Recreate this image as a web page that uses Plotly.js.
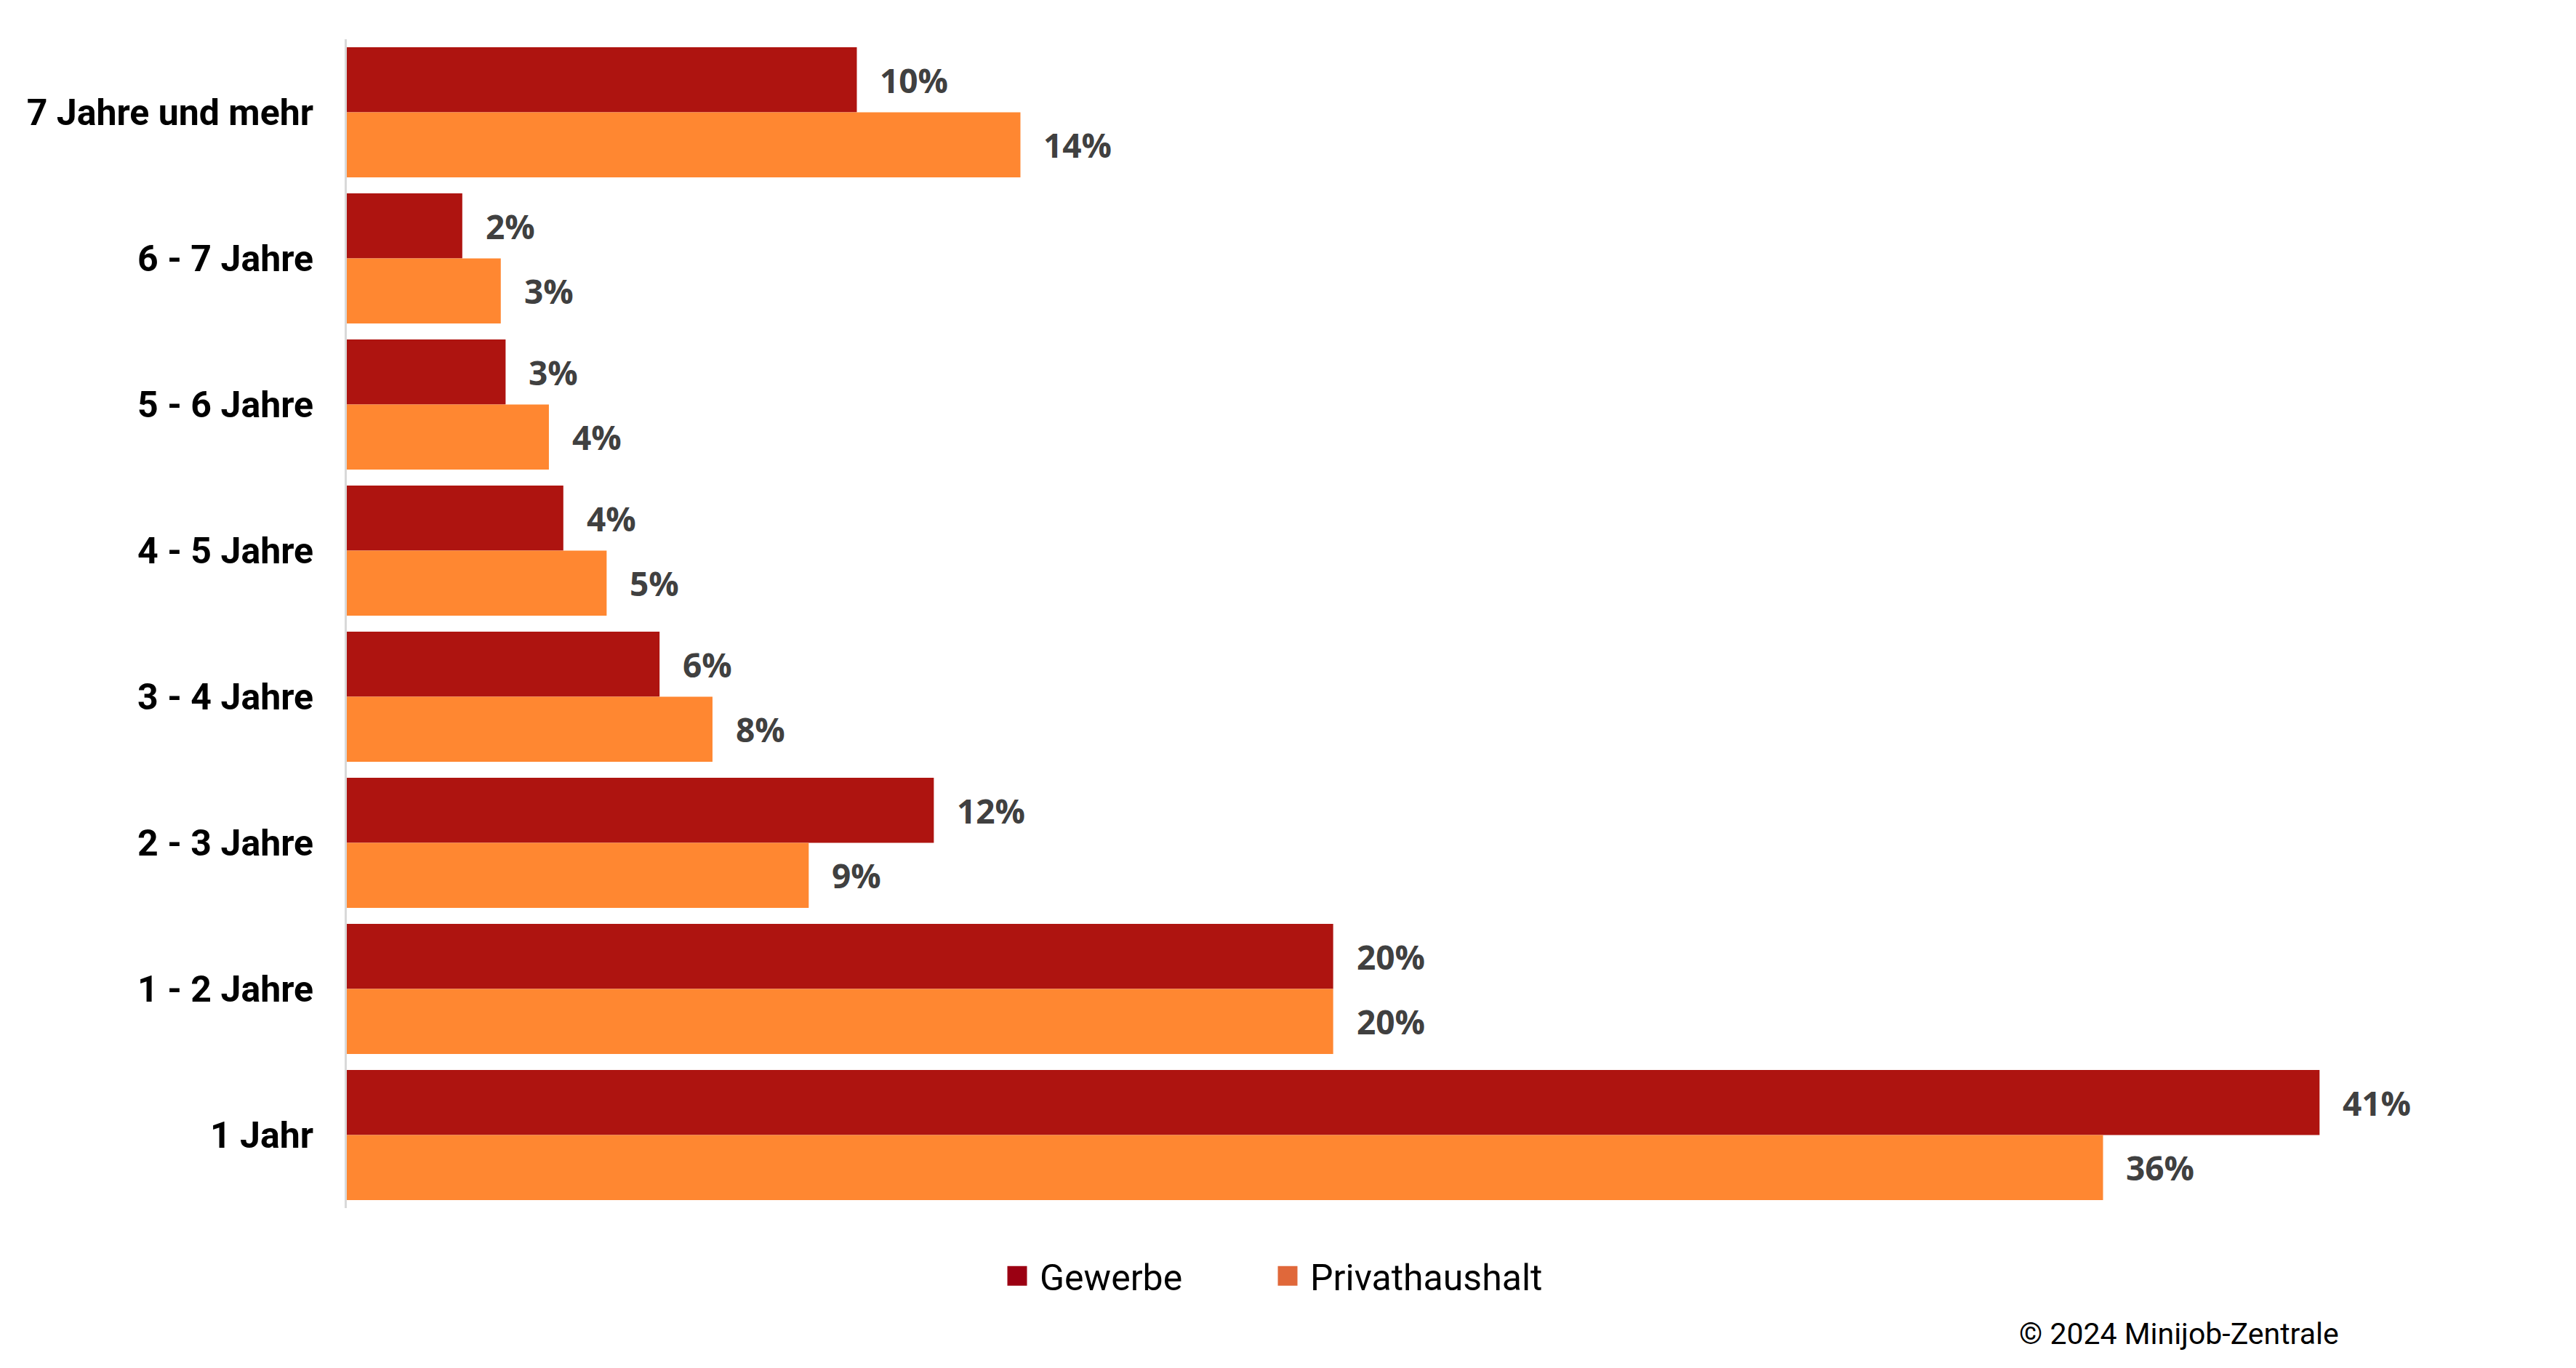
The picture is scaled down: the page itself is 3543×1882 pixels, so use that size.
<!DOCTYPE html>
<html>
<head>
<meta charset="utf-8">
<script src="https://cdn.plot.ly/plotly-3.0.1.min.js"></script>
<style>
  html, body { margin: 0; padding: 0; background: #ffffff; }
  #chart { width: 3543px; height: 1882px; }
</style>
</head>
<body>
<div id="chart"></div>
<script>
// Categories (top to bottom)
const categories = ["7 Jahre und mehr", "6 - 7 Jahre", "5 - 6 Jahre", "4 - 5 Jahre", "3 - 4 Jahre", "2 - 3 Jahre", "1 - 2 Jahre", "1 Jahr"];
// Bar lengths (percent)
const gewerbe = [10.6, 2.4, 3.3, 4.5, 6.5, 12.2, 20.5, 41.0];
const privathaushalt = [14.0, 3.2, 4.2, 5.4, 7.6, 9.6, 20.5, 36.5];
// Data labels as printed in the picture
const gewerbeLabels = ["10%", "2%", "3%", "4%", "6%", "12%", "20%", "41%"];
const privathaushaltLabels = ["14%", "3%", "4%", "5%", "8%", "9%", "20%", "36%"];
const seriesNames = ["Gewerbe", "Privathaushalt"];
const sourceNote = "© 2024 Minijob-Zentrale";

const RED = "#AE1410";
const ORANGE = "#FF8731";
const BARGAP = 0.11;
const LABEL_FONT = { family: "Open Sans, sans-serif", size: 46, color: "#404040", weight: 700 };

const traces = [
  {
    type: "bar", orientation: "h", name: seriesNames[0],
    y: categories, x: gewerbe,
    marker: { color: RED },
    hoverinfo: "skip"
  },
  {
    type: "bar", orientation: "h", name: seriesNames[1],
    y: categories, x: privathaushalt,
    marker: { color: ORANGE },
    hoverinfo: "skip"
  }
];

// Value labels placed next to bar ends through the axis scales
const off = (1 - BARGAP) / 4;
const annotations = [];
categories.forEach((c, i) => {
  annotations.push({
    xref: "x", yref: "y", x: gewerbe[i], y: i - off,
    text: gewerbeLabels[i], showarrow: false,
    xanchor: "left", yanchor: "middle", xshift: 30,
    font: LABEL_FONT
  });
  annotations.push({
    xref: "x", yref: "y", x: privathaushalt[i], y: i + off,
    text: privathaushaltLabels[i], showarrow: false,
    xanchor: "left", yanchor: "middle", xshift: 30,
    font: LABEL_FONT
  });
});
annotations.push({
  xref: "paper", yref: "paper", x: 0.7717, y: -0.1076,
  xanchor: "left", yanchor: "middle", showarrow: false,
  text: sourceNote,
  font: { family: "Roboto, sans-serif", size: 41, color: "#000000" }
});

const layout = {
  width: 3543, height: 1882,
  paper_bgcolor: "#ffffff", plot_bgcolor: "#ffffff",
  margin: { l: 477, r: 88, t: 54, b: 220, pad: 0 },
  barmode: "group",
  bargap: BARGAP, bargroupgap: 0,
  showlegend: true,
  legend: {
    orientation: "h",
    x: 0.4315, xanchor: "center",
    y: -0.058, yanchor: "middle",
    font: { family: "Roboto, sans-serif", size: 50, color: "#000000" },
    entrywidth: 327, entrywidthmode: "pixels",
    traceorder: "normal"
  },
  xaxis: {
    range: [0, 45],
    showgrid: false, zeroline: false, showline: false,
    showticklabels: false, ticks: "", fixedrange: true
  },
  yaxis: {
    type: "category",
    autorange: "reversed",
    showgrid: false, zeroline: false,
    showline: true, linecolor: "#d9d9d9", linewidth: 3,
    ticks: "outside", ticklen: 33, tickcolor: "rgba(0,0,0,0)",
    tickfont: { family: "Roboto, sans-serif", size: 50, color: "#000000", weight: 700 },
    fixedrange: true
  },
  annotations: annotations
};

Plotly.newPlot("chart", traces, layout, { displayModeBar: false, staticPlot: true }).then(gd => {
  // enlarge legend swatches to match the reference
  const legendColors = ["#9B0012", "#E0683A"];
  gd.querySelectorAll(".legend [clip-path]").forEach(el => el.removeAttribute("clip-path"));
  gd.querySelectorAll(".legend .traces").forEach((t, k) => {
    t.querySelectorAll(".legendpoints path").forEach(p => {
      p.setAttribute("d", "M22.5,13.5H-4.5V-13.5H22.5Z");
      p.removeAttribute("transform");
      p.style.fill = legendColors[k] || p.style.fill;
      p.style.stroke = "none";
    });
  });
});
</script>
</body>
</html>
